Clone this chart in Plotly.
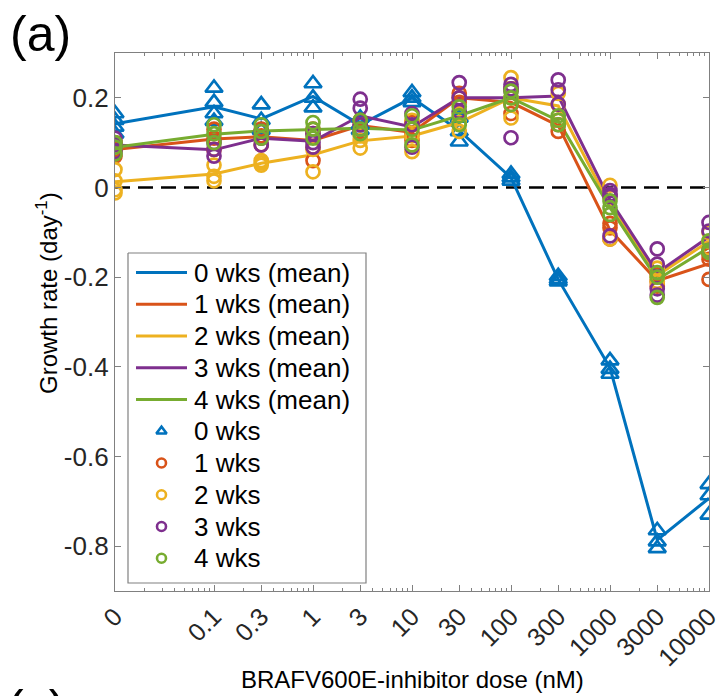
import plotly.graph_objects as go

# ---------------- data ----------------
doses = [0, 0.1, 0.3, 1, 3, 10, 30, 100, 300, 1000, 3000, 10000]
tick_labels = ["0", "0.1", "0.3", "1", "3", "10", "30", "100", "300", "1000", "3000", "10000"]
zero_dose_position = 0.01  # where dose 0 is drawn on the log axis

series_names = ["0 wks", "1 wks", "2 wks", "3 wks", "4 wks"]

mean_0wk = [0.142, 0.18, 0.153, 0.203, 0.14, 0.2, 0.127, 0.022, -0.205, -0.402, -0.786, -0.693]
mean_1wk = [0.085, 0.108, 0.113, 0.105, 0.138, 0.123, 0.2, 0.19, 0.138, -0.095, -0.208, -0.17]
mean_2wk = [0.013, 0.03, 0.054, 0.073, 0.104, 0.115, 0.145, 0.2, 0.182, -0.04, -0.196, -0.12]
mean_3wk = [0.095, 0.084, 0.11, 0.103, 0.16, 0.135, 0.2, 0.2, 0.204, -0.028, -0.19, -0.11]
mean_4wk = [0.09, 0.119, 0.126, 0.129, 0.132, 0.128, 0.16, 0.2, 0.149, -0.045, -0.205, -0.134]

reps_0wk = [[0.165, 0.15, 0.135, 0.12], [0.222, 0.19, 0.165, 0.148], [0.185, 0.15, 0.128],
            [0.232, 0.2, 0.178], [0.155, 0.14, 0.128], [0.212, 0.2, 0.19], [0.155, 0.125, 0.102],
            [0.03, 0.022, 0.015], [-0.198, -0.205, -0.21], [-0.386, -0.405, -0.416],
            [-0.765, -0.79, -0.805], [-0.662, -0.687, -0.73]]
reps_1wk = [[0.1, 0.085, 0.07], [0.13, 0.11, 0.085], [0.13, 0.115, 0.095], [0.13, 0.12, 0.06],
            [0.15, 0.14, 0.125], [0.145, 0.12, 0.105], [0.21, 0.2, 0.19], [0.22, 0.185, 0.165],
            [0.15, 0.14, 0.125], [-0.08, -0.09, -0.115], [-0.195, -0.21, -0.22], [-0.15, -0.16, -0.205]]
reps_2wk = [[0.04, 0.015, -0.005, -0.012], [0.05, 0.025, 0.015], [0.06, 0.055, 0.05], [0.09, 0.085, 0.035],
            [0.115, 0.105, 0.088], [0.15, 0.115, 0.08], [0.165, 0.145, 0.125], [0.245, 0.2, 0.155],
            [0.21, 0.185, 0.15], [0.005, -0.02, -0.115], [-0.18, -0.2, -0.21], [-0.1, -0.12, -0.135]]
reps_3wk = [[0.11, 0.095, 0.08], [0.1, 0.085, 0.07], [0.125, 0.11, 0.095], [0.12, 0.1, 0.09],
            [0.197, 0.177, 0.14, 0.13], [0.165, 0.14, 0.09], [0.234, 0.2, 0.17], [0.23, 0.22, 0.215, 0.111],
            [0.24, 0.218, 0.186], [-0.007, -0.015, -0.02, -0.108], [-0.137, -0.171, -0.226, -0.24],
            [-0.078, -0.097, -0.14]]
reps_4wk = [[0.1, 0.09, 0.075], [0.14, 0.12, 0.1], [0.14, 0.125, 0.11], [0.145, 0.13, 0.11],
            [0.15, 0.13, 0.12], [0.16, 0.13, 0.095], [0.18, 0.16, 0.14], [0.215, 0.2, 0.185],
            [0.16, 0.15, 0.14], [-0.03, -0.045, -0.06], [-0.19, -0.2, -0.245], [-0.119, -0.14, -0.145]]

y_tick_vals = [-0.8, -0.6, -0.4, -0.2, 0, 0.2]
y_tick_text = ["-0.8", "-0.6", "-0.4", "-0.2", "0", "0.2"]

# ---------------- styling / layout constants ----------------
colors = ["#0072BD", "#D95319", "#EDB120", "#7E2F8E", "#77AC30"]
symbols = ["triangle-up-open", "circle-open", "circle-open", "circle-open", "circle-open"]
means = [mean_0wk, mean_1wk, mean_2wk, mean_3wk, mean_4wk]
reps = [reps_0wk, reps_1wk, reps_2wk, reps_3wk, reps_4wk]
FONT = "Liberation Sans, Arial, sans-serif"
AX = "#808080"
TXT = "#262626"

W, H = 725, 696
ML, MR, MT, MB = 115, 16, 53, 105
PX_L, PX_R, PX_T, PX_B = ML, W - MR, MT, H - MB

# manual legend geometry (pixel space of the overlay axes)
LEG_L, LEG_R, LEG_T, LEG_B = 128, 366, 253, 583
LEG_ROW0, LEG_STEP = 272.5, 31.75
LEG_LINE_X0, LEG_LINE_X1, LEG_MARK_X, LEG_TEXT_X = 136, 187, 161.5, 192

xpos = [d if d > 0 else zero_dose_position for d in doses]

fig = go.Figure()

# mean lines
for name, col, m in zip(series_names, colors, means):
    fig.add_trace(go.Scatter(x=xpos, y=m, mode="lines", name=f"{name} (mean)",
                             line=dict(color=col, width=3), showlegend=False))

# replicate markers
for name, col, sym, r in zip(series_names, colors, symbols, reps):
    xs, ys = [], []
    for xp, vals in zip(xpos, r):
        for v in vals:
            xs.append(xp)
            ys.append(v)
    size = 15 if sym.startswith("triangle") else 13
    fig.add_trace(go.Scatter(x=xs, y=ys, mode="markers", name=name, showlegend=False,
                             marker=dict(symbol=sym, size=size, color=col,
                                         line=dict(color=col, width=2.7))))

# ---- manual legend on a pixel-space overlay ----
fig.add_trace(go.Scatter(x=[LEG_L, LEG_R, LEG_R, LEG_L, LEG_L],
                         y=[LEG_T, LEG_T, LEG_B, LEG_B, LEG_T],
                         xaxis="x2", yaxis="y2", mode="lines", fill="toself",
                         fillcolor="white", line=dict(color=AX, width=1.2),
                         showlegend=False, hoverinfo="skip"))
labels = [f"{n} (mean)" for n in series_names] + series_names
for i, (name, col) in enumerate(zip(series_names, colors)):
    yrow = LEG_ROW0 + i * LEG_STEP
    fig.add_trace(go.Scatter(x=[LEG_LINE_X0, LEG_LINE_X1], y=[yrow, yrow], xaxis="x2", yaxis="y2",
                             mode="lines", line=dict(color=col, width=3),
                             showlegend=False, hoverinfo="skip"))
for i, (name, col, sym) in enumerate(zip(series_names, colors, symbols)):
    yrow = LEG_ROW0 + (i + 5) * LEG_STEP
    fig.add_trace(go.Scatter(x=[LEG_MARK_X], y=[yrow], xaxis="x2", yaxis="y2",
                             mode="markers",
                             marker=dict(symbol=sym, size=9, color=col, line=dict(color=col, width=2.6)),
                             showlegend=False, hoverinfo="skip"))
for i, lab in enumerate(labels):
    yrow = LEG_ROW0 + i * LEG_STEP
    fig.add_annotation(text=lab, xref="x2", yref="y2", x=LEG_TEXT_X, y=yrow,
                       xanchor="left", yanchor="middle", showarrow=False,
                       font=dict(family=FONT, size=26, color="black"))

# zero reference line
fig.add_shape(type="line", xref="paper", x0=0, x1=1, yref="y", y0=0, y1=0,
              line=dict(color="black", width=2.5, dash="15px,8px"), layer="below")

# minor ticks on the log axis
minor_vals = []
for dec in [0.01, 0.1, 1, 10, 100, 1000]:
    for k in range(2, 10):
        if k == 3 and dec >= 0.1:
            continue
        minor_vals.append(k * dec)

fig.update_layout(
    width=W, height=H,
    margin=dict(l=ML, r=MR, t=MT, b=MB, autoexpand=False),
    paper_bgcolor="white", plot_bgcolor="white",
    font=dict(family=FONT, size=24, color=TXT),
    showlegend=False,
    xaxis=dict(type="log", range=[-2, 4], tickmode="array", tickvals=xpos, ticktext=tick_labels,
               tickangle=-45, ticks="inside", ticklen=6, tickwidth=1.2, tickcolor=AX,
               showline=True, linecolor=AX, linewidth=1.3, mirror="ticks",
               showgrid=False, zeroline=False, automargin=False,
               tickfont=dict(family=FONT, size=25, color=TXT),
               minor=dict(tickmode="array", tickvals=minor_vals, ticks="inside", ticklen=3,
                          tickwidth=1, tickcolor=AX, showgrid=False)),
    yaxis=dict(range=[-0.9, 0.3], tickmode="array", tickvals=y_tick_vals, ticktext=y_tick_text,
               ticks="inside", ticklen=6, tickwidth=1.2, tickcolor=AX,
               showline=True, linecolor=AX, linewidth=1.3, mirror="ticks",
               showgrid=False, zeroline=False, automargin=False,
               tickfont=dict(family=FONT, size=26, color=TXT)),
    xaxis2=dict(overlaying="x", range=[PX_L, PX_R], visible=False, fixedrange=True),
    yaxis2=dict(overlaying="y", range=[PX_B, PX_T], visible=False, fixedrange=True),
)

# axis titles and panel labels
fig.add_annotation(text="BRAFV600E-inhibitor dose (nM)", xref="paper", yref="paper",
                   x=(412 - PX_L) / (PX_R - PX_L), y=1 - (679 - PX_T) / (PX_B - PX_T),
                   xanchor="center", yanchor="middle", showarrow=False,
                   font=dict(family=FONT, size=24, color="black"))
fig.add_annotation(text="Growth rate (day<sup>-1</sup>)", xref="paper", yref="paper",
                   x=(47 - PX_L) / (PX_R - PX_L), y=1 - (293 - PX_T) / (PX_B - PX_T),
                   xanchor="center", yanchor="middle", textangle=-90,
                   showarrow=False, font=dict(family=FONT, size=24, color="black"))
fig.add_annotation(text="(a)", xref="paper", yref="paper",
                   x=(40 - PX_L) / (PX_R - PX_L), y=1 - (34 - PX_T) / (PX_B - PX_T),
                   xanchor="center", yanchor="middle", showarrow=False,
                   font=dict(family=FONT, size=50, color="black"))
# top of the next panel's label, peeking in at the bottom edge
fig.add_annotation(text="(c)", xref="paper", yref="paper",
                   x=(36 - PX_L) / (PX_R - PX_L), y=1 - (678 - PX_T) / (PX_B - PX_T),
                   xanchor="center", yanchor="top", showarrow=False,
                   font=dict(family=FONT, size=50, color="black"))

# remove the default page margin so the figure fills the 725x696 window exactly
fig.write_html("out.html", config={"displayModeBar": False},
               post_script="document.body.style.margin='0';document.body.style.padding='0';")
